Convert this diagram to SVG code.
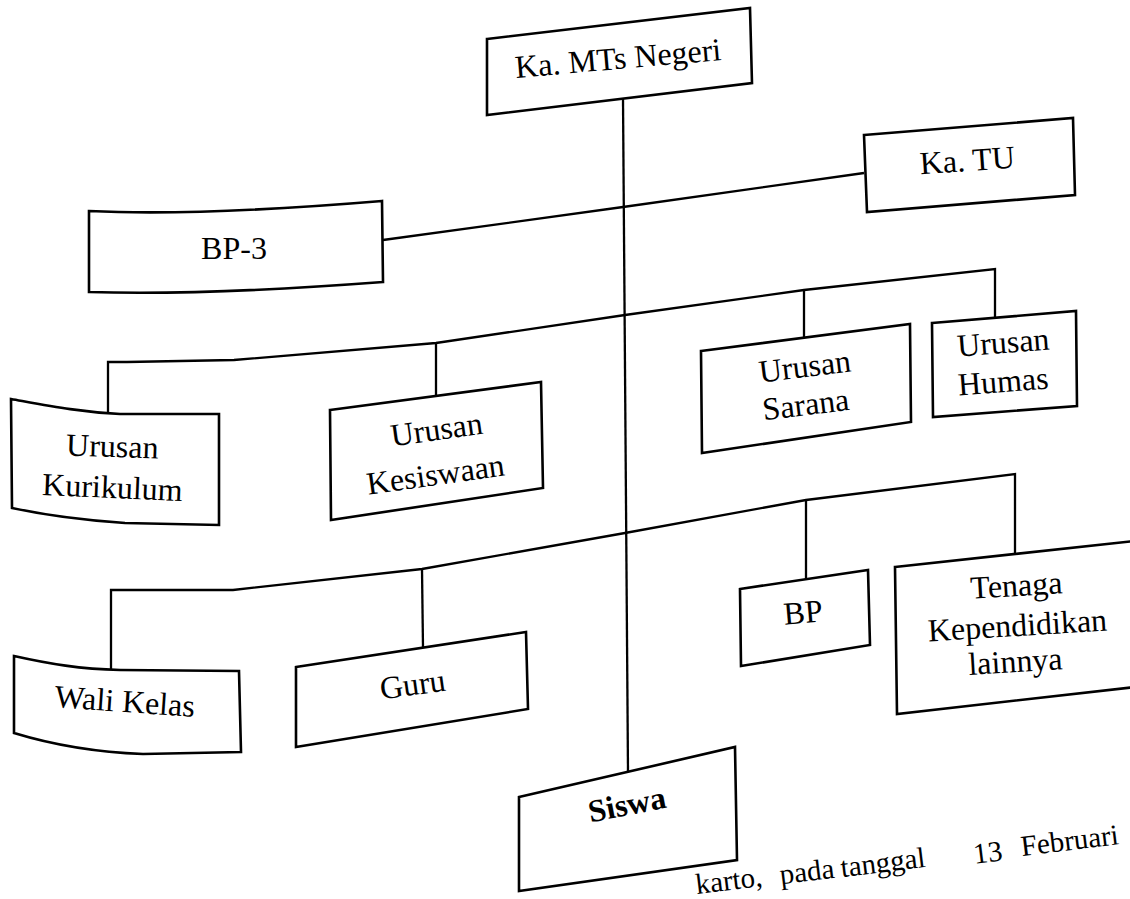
<svg xmlns="http://www.w3.org/2000/svg" width="1130" height="899" viewBox="0 0 1130 899">
<style>
.box{fill:#fff;stroke:#000;stroke-width:2.6;stroke-linejoin:miter}
.conn{fill:none;stroke:#000;stroke-width:2.3}
.lbl{font-family:"Liberation Serif","Times New Roman",serif;font-size:32px;text-anchor:middle;fill:#000}
.bold{font-weight:bold}
.foot{font-family:"Liberation Serif","Times New Roman",serif;font-size:29px;fill:#000}
</style>
<rect width="1130" height="899" fill="#fff"/>
<g id="connectors">
<path class="conn" d="M623,99 L628,772"/>
<path class="conn" d="M383,240 L623,207 L864,173"/>
<path class="conn" d="M108,413 L108,362 L127,362 L234,360 L436,343 L625,315 L804,290 L995,269 L995,318"/>
<path class="conn" d="M436,343 L436,396"/>
<path class="conn" d="M804,290 L804,338"/>
<path class="conn" d="M111,670 L111,590 L233,590 L422,569 L625,533 L806,500 L1015,474 L1015,554"/>
<path class="conn" d="M422,569 L423,648"/>
<path class="conn" d="M806,500 L806,579"/>
</g>
<g id="ka-mts">
<path class="box" d="M487,39 L750,8 L752,83 L487,115 Z"/>
<text class="lbl" x="619" y="69" transform="rotate(-5 619 69)">Ka. MTs Negeri</text>
</g>
<g id="ka-tu">
<path class="box" d="M864,135 L1073,118 L1075,195 L867,212 Z"/>
<text class="lbl" x="968" y="171" font-size="31" transform="rotate(-4 968 171)">Ka. TU</text>
</g>
<g id="bp3">
<path class="box" d="M89,211 C150,214 250,212 382,201 L383,282 C250,292 150,294 89,292 Z"/>
<text class="lbl" x="234" y="259" font-size="34">BP-3</text>
</g>
<g id="kurikulum">
<path class="box" d="M11,399 C50,406 80,412 120,414 L219,414 L219,525 L125,523 C80,520 40,514 12,508 Z"/>
<text class="lbl" x="112" y="457" font-size="34" transform="rotate(2 112 457)">Urusan</text>
<text class="lbl" x="112" y="498" font-size="34" transform="rotate(2.5 112 498)">Kurikulum</text>
</g>
<g id="kesiswaan">
<path class="box" d="M330,410 L541,382 L543,488 L331,520 Z"/>
<text class="lbl" x="438" y="440" font-size="34" transform="rotate(-8 438 440)">Urusan</text>
<text class="lbl" x="437" y="485" font-size="34" transform="rotate(-8 437 485)">Kesiswaan</text>
</g>
<g id="sarana">
<path class="box" d="M701,351 L910,324 L911,422 L702,453 Z"/>
<text class="lbl" x="806" y="377" font-size="31" transform="rotate(-7 806 377)">Urusan</text>
<text class="lbl" x="807" y="415" font-size="31" transform="rotate(-7 807 415)">Sarana</text>
</g>
<g id="humas">
<path class="box" d="M932,323 L1076,311 L1077,406 L933,417 Z"/>
<text class="lbl" x="1004" y="353" font-size="31" transform="rotate(-4.5 1004 353)">Urusan</text>
<text class="lbl" x="1004" y="392" font-size="31" transform="rotate(-4.5 1004 392)">Humas</text>
</g>
<g id="wali-kelas">
<path class="box" d="M14,656 C50,664 80,669 120,670 L239,671 L241,752 L143,754 C90,752 50,744 14,733 Z"/>
<text class="lbl" x="124" y="712" font-size="34" transform="rotate(4 124 712)">Wali Kelas</text>
</g>
<g id="guru">
<path class="box" d="M296,667 L526,632 L528,709 L296,747 Z"/>
<text class="lbl" x="414" y="695" font-size="34" transform="rotate(-8 414 695)">Guru</text>
</g>
<g id="bp">
<path class="box" d="M740,589 L868,570 L870,645 L741,666 Z"/>
<text class="lbl" x="804" y="623" font-size="30" transform="rotate(-5 804 623)">BP</text>
</g>
<g id="tenaga">
<path class="box" d="M895,567 L1135,541 L1135,687 L897,714 Z"/>
<text class="lbl" x="1017" y="596" font-size="32" transform="rotate(-3.5 1017 596)">Tenaga</text>
<text class="lbl" x="1018" y="636" font-size="32" transform="rotate(-3.5 1018 636)">Kependidikan</text>
<text class="lbl" x="1016" y="672" font-size="32" transform="rotate(-3.5 1016 672)">lainnya</text>
</g>
<g id="siswa">
<path class="box" d="M519,797 L735,747 L737,860 L519,891 Z"/>
<text class="lbl bold" x="629" y="815" font-size="32" transform="rotate(-11 629 815)">Siswa</text>
</g>
<g id="footer">
<text class="foot" x="730" y="890" text-anchor="middle" transform="rotate(-7 730 890)">karto,</text>
<text class="foot" x="808" y="881" text-anchor="middle" transform="rotate(-7 808 881)">pada</text>
<text class="foot" x="884" y="872" text-anchor="middle" transform="rotate(-7 884 872)">tanggal</text>
<text class="foot" x="989" y="862" text-anchor="middle" transform="rotate(-7 989 862)">13</text>
<text class="foot" x="1022" y="856" transform="rotate(-7 1022 856)">Februari</text>
</g>
</svg>
